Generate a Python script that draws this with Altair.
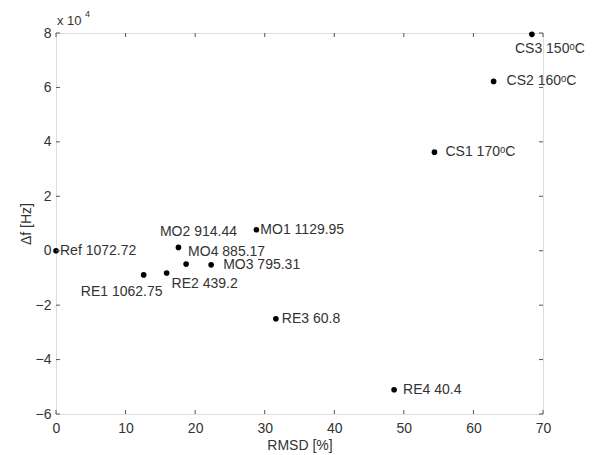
import altair as alt
import pandas as pd

# ---- data ----
names = ["Ref", "RE1", "RE2", "MO2", "MO4", "MO3", "MO1", "RE3", "RE4", "CS1", "CS2", "CS3"]
tags = ["1072.72", "1062.75", "439.2", "914.44", "885.17", "795.31", "1129.95",
        "60.8", "40.4", "170ᵒC", "160ᵒC", "150ᵒC"]
rmsd = [0.0, 12.6, 15.9, 17.6, 18.7, 22.3, 28.8, 31.6, 48.6, 54.4, 62.9, 68.4]
df_1e4 = [0.0, -0.89, -0.82, 0.12, -0.49, -0.52, 0.77, -2.5, -5.11, 3.62, 6.22, 7.95]  # in 10^4 Hz

x_ticks = [0, 10, 20, 30, 40, 50, 60, 70]
y_ticks = [-6, -4, -2, 0, 2, 4, 6, 8]

data = pd.DataFrame({
    "name": names,
    "label": [f"{n} {t}" for n, t in zip(names, tags)],
    "rmsd": rmsd,
    "df": df_1e4,
})
xt = pd.DataFrame({"rmsd": x_ticks})
yt = pd.DataFrame({"df": y_ticks})

FONT = "Liberation Sans"
TXT = "#333333"
AX = "#555555"
W, H, TL = 487, 381, 4

xs = alt.Scale(domain=[0, 70], nice=False, zero=False)
ys = alt.Scale(domain=[-6, 8], nice=False, zero=False)

common_axis = dict(grid=False, domain=False, ticks=False, tickSize=0, labelFlush=False,
                   labelFont=FONT, labelFontSize=14, labelColor=TXT,
                   titleFont=FONT, titleFontSize=14, titleColor=TXT, titleFontWeight="normal")
x_axis = alt.Axis(values=x_ticks, title="RMSD [%]", labelPadding=7, titlePadding=3, **common_axis)
y_axis = alt.Axis(values=y_ticks, title="Δf [Hz]", labelPadding=5, titlePadding=2, **common_axis)

X = alt.X("rmsd:Q", scale=xs, axis=x_axis)
Y = alt.Y("df:Q", scale=ys, axis=y_axis)

base = alt.Chart(data)

points = base.mark_point(filled=True, color="black", size=32, opacity=1).encode(x=X, y=Y)

# inward tick marks on all four sides (MATLAB box style)
tick_bottom = alt.Chart(xt).mark_rule(color=AX, strokeWidth=1).encode(
    x=X, y=alt.value(H), y2=alt.value(H - TL))
tick_top = alt.Chart(xt).mark_rule(color=AX, strokeWidth=1).encode(
    x=X, y=alt.value(0), y2=alt.value(TL))
tick_left = alt.Chart(yt).mark_rule(color=AX, strokeWidth=1).encode(
    y=Y, x=alt.value(0), x2=alt.value(TL))
tick_right = alt.Chart(yt).mark_rule(color=AX, strokeWidth=1).encode(
    y=Y, x=alt.value(W), x2=alt.value(W - TL))

# label placement (style): name -> (align, dx, dy)
placement = {
    "Ref": ("left", 4, 0), "MO1": ("left", 4, 0), "MO3": ("left", 12, 0),
    "RE3": ("left", 6, 0), "RE4": ("left", 9, 0), "CS1": ("left", 11, 0),
    "CS2": ("left", 13, 0), "RE2": ("left", 5, 11), "MO4": ("left", 2, -12),
    "RE1": ("center", -22, 17), "MO2": ("center", 20, -15), "CS3": ("center", 18, 15),
}

labels = []
for n, (al, dx, dy) in placement.items():
    labels.append(
        base.transform_filter(alt.datum.name == n).mark_text(
            align=al, baseline="middle", dx=dx, dy=dy, font=FONT, fontSize=14, color=TXT
        ).encode(x=X, y=Y, text="label:N")
    )

one = pd.DataFrame({"a": [0]})
exp_base = alt.Chart(one).mark_text(align="left", baseline="middle", font=FONT,
                                    fontSize=13, color=TXT).encode(
    x=alt.value(1), y=alt.value(-12), text=alt.value("x 10"))
exp_pow = alt.Chart(one).mark_text(align="left", baseline="middle", font=FONT,
                                   fontSize=9, color=TXT).encode(
    x=alt.value(29), y=alt.value(-19), text=alt.value("4"))

chart = alt.layer(points, tick_bottom, tick_top, tick_left, tick_right,
                  *labels, exp_base, exp_pow).properties(
    width=W, height=H,
    autosize=alt.AutoSizeParams(type="none"),
    padding={"left": 48, "top": 25, "right": 44, "bottom": 40},
).configure_view(stroke=AX, strokeWidth=1.2).configure(background="white")

chart.save("out.html", embed_options={"renderer": "svg", "actions": False})
